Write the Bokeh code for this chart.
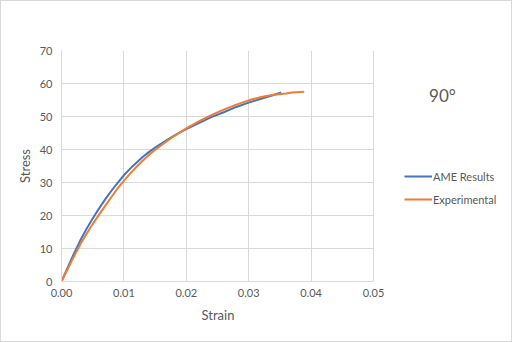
from bokeh.plotting import figure
from bokeh.models import FixedTicker, NumeralTickFormatter, Legend, LegendItem, Label, Range1d, Title
from bokeh.embed import file_html
from bokeh.resources import INLINE

# Data
ame_strain = [0, 0.001, 0.002, 0.003, 0.004, 0.005, 0.006, 0.007, 0.008, 0.009,
              0.010, 0.011, 0.012, 0.013, 0.014, 0.015, 0.016, 0.017, 0.018, 0.019,
              0.020, 0.022, 0.024, 0.026, 0.028, 0.030, 0.032, 0.034, 0.0352]
ame_stress = [0, 4.3, 8.5, 12.4, 15.9, 19.1, 22.1, 24.9, 27.5, 29.9,
              32.2, 34.2, 36.0, 37.7, 39.2, 40.6, 41.8, 43.0, 44.1, 45.2,
              46.2, 48.0, 49.8, 51.3, 52.9, 54.2, 55.4, 56.5, 57.3]

exp_strain = [0, 0.001, 0.002, 0.003, 0.004, 0.005, 0.006, 0.007, 0.008, 0.009,
              0.010, 0.011, 0.012, 0.013, 0.014, 0.015, 0.016, 0.017, 0.018, 0.019,
              0.020, 0.022, 0.024, 0.026, 0.028, 0.030, 0.032, 0.034, 0.036, 0.037, 0.0389]
exp_stress = [0, 3.8, 7.6, 11.2, 14.4, 17.4, 20.2, 22.9, 25.6, 28.2,
              30.5, 32.7, 34.7, 36.6, 38.3, 39.9, 41.3, 42.7, 44.0, 45.2,
              46.4, 48.5, 50.4, 52.1, 53.6, 54.9, 55.9, 56.6, 57.0, 57.3, 57.5]

x_ticks = [0, 0.01, 0.02, 0.03, 0.04, 0.05]
y_ticks = [0, 10, 20, 30, 40, 50, 60, 70]
x_min, x_max = 0, 0.05
y_min, y_max = 0, 70
series_names = ["AME Results", "Experimental"]
series_colors = ["#4472C4", "#ED7D31"]
title_text = "90°"

FONT = "Lato"
GRAY = "#595959"
GRID = "#d9d9d9"

# plot area 312 px wide for 0..0.05; the frame continues to the right to hold legend/title
axis_px = 312
frame_w = 450
frame_h = 231
x_end = x_max * frame_w / axis_px

p = figure(frame_width=frame_w, frame_height=frame_h, output_backend="svg", toolbar_location=None,
           x_range=Range1d(x_min, x_end), y_range=Range1d(y_min, y_max),
           min_border_left=60, min_border_right=0, min_border_top=49, min_border_bottom=60)
p.styles = {"border": "1px solid #d9d9d9"}
p.outline_line_color = None
p.background_fill_color = "white"
p.border_fill_color = "white"

for ax in (p.xaxis[0], p.yaxis[0]):
    ax.major_tick_line_color = None
    ax.minor_tick_line_color = None
    ax.major_tick_out = 0
    ax.major_tick_in = 0
    ax.minor_tick_out = 0
    ax.minor_tick_in = 0
    ax.axis_line_color = GRID
    ax.major_label_text_font = FONT
    ax.major_label_text_font_size = "11px"
    ax.major_label_text_color = GRAY
    ax.axis_label_text_font = FONT
    ax.axis_label_text_font_size = "13px"
    ax.axis_label_text_color = GRAY
    ax.axis_label_text_font_style = "normal"

p.xaxis.ticker = FixedTicker(ticks=x_ticks)
p.yaxis.ticker = FixedTicker(ticks=y_ticks)
p.xaxis.bounds = (x_min, x_max)
p.xaxis.formatter = NumeralTickFormatter(format="0.00")
p.yaxis.axis_label = "Stress"
p.xaxis.major_label_standoff = 7
p.yaxis.major_label_standoff = 9
p.yaxis.axis_label_standoff = 4

# x-axis title centred under the 0..0.05 span (not under the whole frame)
p.add_layout(Title(text="Strain", align="left", offset=140, standoff=10,
                   text_font=FONT, text_font_size="13px", text_color=GRAY,
                   text_font_style="normal"), "below")

p.xgrid.ticker = FixedTicker(ticks=x_ticks)
p.ygrid.ticker = FixedTicker(ticks=y_ticks)
p.xgrid.grid_line_color = GRID
p.ygrid.grid_line_color = GRID
p.ygrid.cross_bounds = (x_min, x_max)

r1 = p.line(ame_strain, ame_stress, line_color=series_colors[0], line_width=2)
r2 = p.line(exp_strain, exp_stress, line_color=series_colors[1], line_width=2)

legend = Legend(items=[LegendItem(label=series_names[0], renderers=[r1]),
                       LegendItem(label=series_names[1], renderers=[r2])],
                location=(343, 72), orientation="vertical",
                glyph_width=28, glyph_height=20, label_height=20, spacing=3,
                padding=0, margin=0, label_standoff=1,
                label_text_font=FONT, label_text_font_size="11px", label_text_color=GRAY,
                border_line_color=None, background_fill_alpha=0)
p.add_layout(legend, "center")

# "90°" sits inside the extended frame, to the right of the 0..0.05 span
p.add_layout(Label(x=x_max * (442 - 61) / axis_px, y=y_max * (281 - 95) / frame_h,
                   text=title_text, text_align="center", text_baseline="middle",
                   text_font=FONT, text_font_size="17px", text_color=GRAY))

open("out.html", "w").write(file_html(p, INLINE))
